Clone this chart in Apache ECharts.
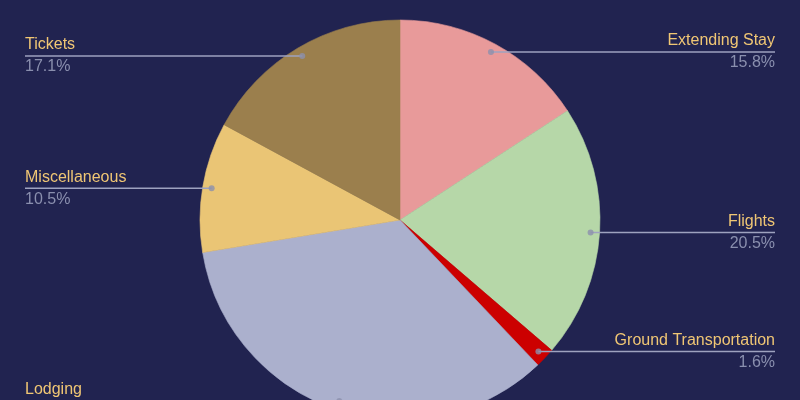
<!DOCTYPE html>
<html>
<head>
<meta charset="utf-8">
<script src="https://cdn.jsdelivr.net/npm/echarts@6/dist/echarts.min.js"></script>
<style>
html,body{margin:0;padding:0;background:#212350;}
#main{width:800px;height:400px;}
</style>
</head>
<body>
<div id="main"></div>
<script>
const categories = ['Extending Stay', 'Flights', 'Ground Transportation', 'Lodging', 'Miscellaneous', 'Tickets'];
const values = [15.8, 20.5, 1.6, 34.5, 10.5, 17.1];
const sliceColors = ['#e89a9a', '#b6d7a8', '#cc0000', '#abb0cd', '#eac575', '#9b7f4d'];

const total = values.reduce((a, b) => a + b, 0);
let acc = 0;
const mids = values.map(v => { const m = (acc + v / 2) / total; acc += v; return m; });

const chart = echarts.init(document.getElementById('main'), null, {renderer: 'canvas'});
const R = 200;
const DOT = 0.955;
const FONT = 'Liberation Sans, Arial, sans-serif';

const option = {
  backgroundColor: '#212350',
  animation: false,
  polar: { center: ['50%', '55%'], radius: R },
  angleAxis: { type: 'value', min: 0, max: 100, startAngle: 90, clockwise: true, show: false },
  radiusAxis: { type: 'value', min: 0, max: 1, show: false },
  series: [
    {
      type: 'pie',
      center: ['50%', '55%'],
      radius: R,
      startAngle: 90,
      clockwise: true,
      emphasis: { disabled: true },
      silent: true,
      data: categories.map((c, i) => ({
        name: c, value: values[i],
        itemStyle: { color: sliceColors[i], borderColor: sliceColors[i], borderWidth: 0.6 }
      })),
      label: { show: false },
      labelLine: { show: false },
      z: 1
    },
    {
      type: 'pie',
      center: ['50%', '55%'],
      radius: R,
      startAngle: 90,
      clockwise: true,
      emphasis: { disabled: true },
      silent: true,
      data: categories.map((c, i) => ({
        name: c, value: values[i],
        itemStyle: { color: 'rgba(0,0,0,0)', borderWidth: 0 }
      })),
      label: {
        alignTo: 'edge',
        edgeDistance: 25,
        formatter: '{name|{b}}\n{pct|{c}%}',
        lineHeight: 22,
        rich: {
          name: { color: '#f0c674', fontSize: 16, fontFamily: FONT, lineHeight: 22 },
          pct: { color: '#8a8fae', fontSize: 16, fontFamily: FONT, lineHeight: 22 }
        }
      },
      labelLine: { show: true, length: 0, length2: 0, lineStyle: { color: '#9ea2bf', width: 1.5 } },
      labelLayout: function (params) {
        const i = params.dataIndex;
        const ang = mids[i] * 2 * Math.PI;
        const cx = chart.getWidth() * 0.5;
        const cy = chart.getHeight() * 0.55;
        const x = cx + R * DOT * Math.sin(ang);
        const y = cy - R * DOT * Math.cos(ang);
        const r = params.labelRect;
        const isLeft = r.x + r.width / 2 < cx;
        const ex = isLeft ? r.x : r.x + r.width;
        return { y: y, labelLinePoints: [[x, y], [x, y], [ex, y]] };
      },
      z: 3
    },
    {
      type: 'scatter',
      coordinateSystem: 'polar',
      symbol: 'circle',
      symbolSize: 6,
      itemStyle: { color: '#8c90ad' },
      data: mids.map(m => [DOT, m * 100]),
      silent: true,
      z: 5
    }
  ]
};
chart.setOption(option);
</script>
</body>
</html>
